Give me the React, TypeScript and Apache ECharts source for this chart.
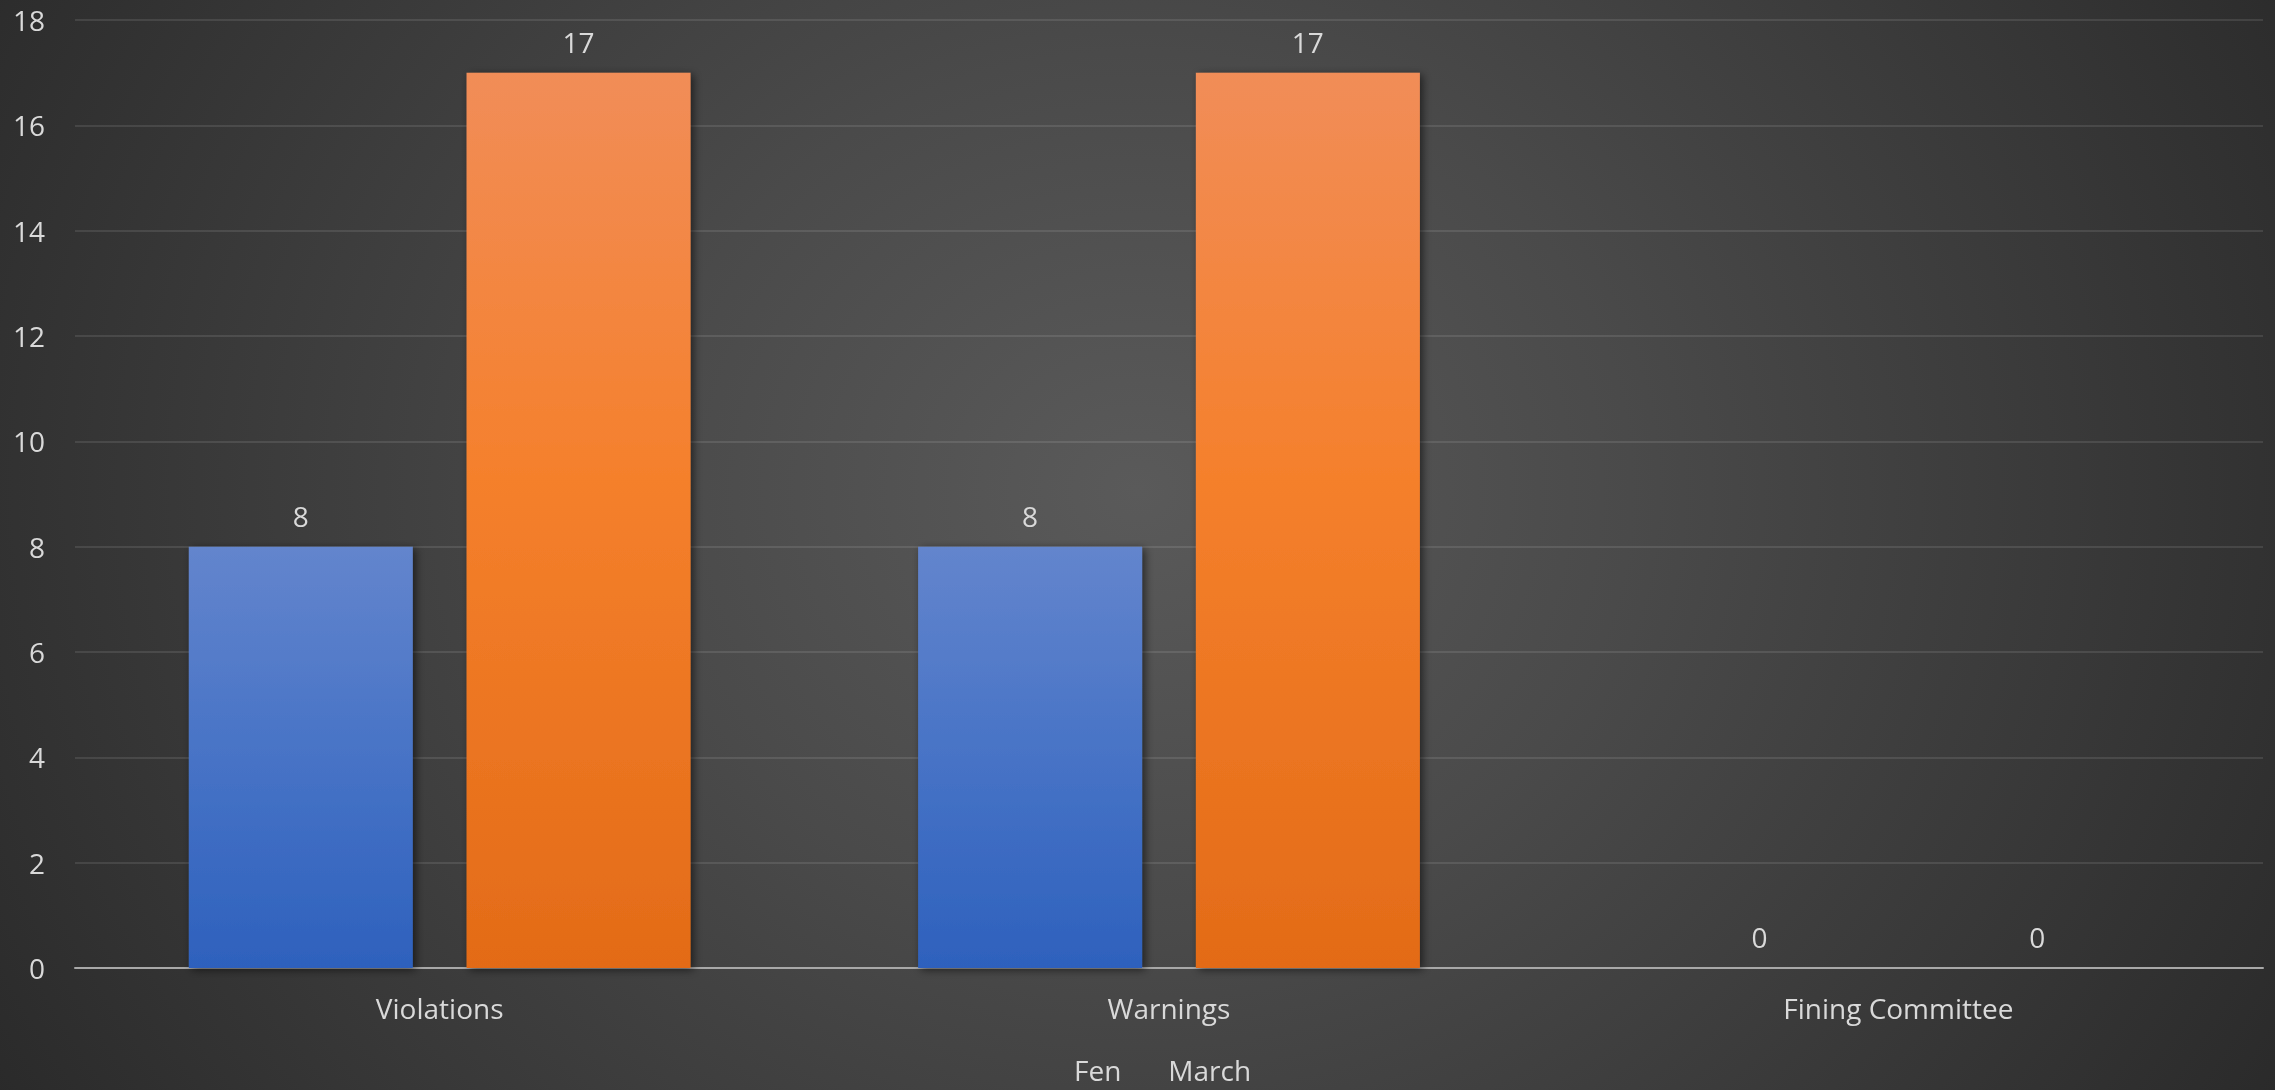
import React, { useEffect, useRef } from "react";
import * as echarts from "echarts";

const categories = ["Violations", "Warnings", "Fining Committee"];
const seriesNames = ["Fen", "March"];
const fenValues = [8, 8, 0];
const marchValues = [17, 17, 0];
const yTicks = { min: 0, max: 18, interval: 2 };

const FONT = "'Open Sans', 'DejaVu Sans', sans-serif";
const TEXT = "#d9d9d9";

export default function App() {
  const ref = useRef<HTMLDivElement | null>(null);

  useEffect(() => {
    if (!ref.current) return;
    const chart = echarts.init(ref.current, null, { renderer: "svg" });
    const label = {
      show: true,
      position: "top",
      distance: 17,
      color: TEXT,
      fontFamily: FONT,
      fontSize: 28,
      lineHeight: 28,
    };
    const shadow = {
      shadowBlur: 8,
      shadowColor: "rgba(0,0,0,0.55)",
      shadowOffsetX: 3,
      shadowOffsetY: 2,
    };
    chart.setOption({
      animation: false,
      backgroundColor: "transparent",
      textStyle: { fontFamily: FONT },
      grid: { left: 75, right: 12, top: 20, bottom: 122, containLabel: false },
      legend: {
        data: seriesNames,
        left: 1069,
        top: 1056,
        padding: 0,
        itemWidth: 0,
        itemHeight: 0,
        itemGap: 42,
        textStyle: { color: TEXT, fontFamily: FONT, fontSize: 28, lineHeight: 28 },
      },
      xAxis: {
        type: "category",
        data: categories,
        axisLine: { show: true, lineStyle: { color: "#a8a8a8", width: 2 } },
        axisTick: { show: false },
        axisLabel: {
          color: TEXT,
          fontFamily: FONT,
          fontSize: 28,
          lineHeight: 28,
          margin: 26,
        },
        splitLine: { show: false },
      },
      yAxis: {
        type: "value",
        min: yTicks.min,
        max: yTicks.max,
        interval: yTicks.interval,
        axisLine: { show: false },
        axisTick: { show: false },
        axisLabel: {
          color: TEXT,
          fontFamily: FONT,
          fontSize: 28,
          margin: 30,
        },
        splitLine: { lineStyle: { color: "rgba(255,255,255,0.1)", width: 2 } },
      },
      series: [
        {
          name: seriesNames[0],
          type: "bar",
          data: fenValues,
          barWidth: 224,
          barGap: "24%",
          label,
          itemStyle: {
            ...shadow,
            color: new echarts.graphic.LinearGradient(0, 0, 0, 1, [
              { offset: 0, color: "#6385cd" },
              { offset: 0.5, color: "#4773c6" },
              { offset: 1, color: "#2e61bd" },
            ]),
          },
        },
        {
          name: seriesNames[1],
          type: "bar",
          data: marchValues,
          barWidth: 224,
          barGap: "24%",
          label,
          itemStyle: {
            ...shadow,
            color: new echarts.graphic.LinearGradient(0, 0, 0, 1, [
              { offset: 0, color: "#f18d58" },
              { offset: 0.45, color: "#f5802c" },
              { offset: 1, color: "#e36b17" },
            ]),
          },
        },
      ],
    });
    return () => chart.dispose();
  }, []);

  return (
    <div
      style={{
        position: "fixed",
        left: 0,
        top: 0,
        width: "100vw",
        height: "100vh",
        background:
          "radial-gradient(ellipse 62% 115% at 50% 45%, #5a5a5a 0%, #4a4a4a 35%, #272727 100%)",
      }}
    >
      <div ref={ref} style={{ width: 2275, height: 1090 }} />
    </div>
  );
}
